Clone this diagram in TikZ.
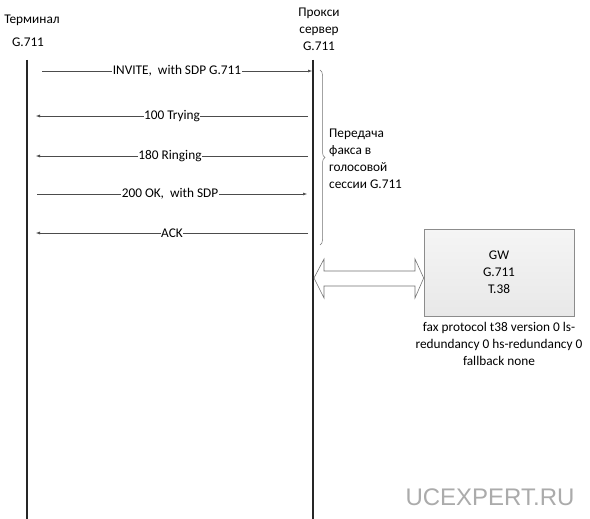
\documentclass[tikz,border=0pt]{standalone}
\usepackage{fontspec}
\setmainfont{Carlito}
\newfontfamily\wmfont{Liberation Sans}
\usetikzlibrary{arrows.meta,decorations.pathreplacing}
\begin{document}
\begin{tikzpicture}[x=1pt,y=-1pt,
  every node/.style={font=\fontsize{13.3}{17}\selectfont, inner sep=1pt},
  life/.style={line width=2pt, black!85},
  msg/.style={draw=black!70, line width=0.5pt, -{Latex[length=4pt,width=3pt]}},
  lbl/.style={fill=white, inner sep=0.5pt},
  hdr/.style={align=center}]
\useasboundingbox (0,0) rectangle (590,519);
\fill[white] (0,0) rectangle (590,519);
% headers
\node[hdr] (term) at (32,20) {Терминал};
\node[hdr] (termg) at (28,42) {G.711};
\node[hdr] (prox) at (319,29) {Прокси\\сервер\\G.711};
% lifelines
\coordinate (lt) at (27,60); \coordinate (lb) at (27,519);
\coordinate (rt) at (313,60); \coordinate (rb) at (313,519);
\draw[life] (lt) -- (lb);
\draw[life] (rt) -- (rb);
% messages
\coordinate (m1a) at (42,71);  \coordinate (m1b) at (312,71);
\coordinate (m2a) at (308,116); \coordinate (m2b) at (36,116);
\coordinate (m3a) at (308,156); \coordinate (m3b) at (36,156);
\coordinate (m4a) at (37,194); \coordinate (m4b) at (307,194);
\coordinate (m5a) at (308,233); \coordinate (m5b) at (36,233);
\draw[msg] (m1a) -- (m1b);
\node[lbl] (l1) at (177,71) {INVITE,\ \ with SDP G.711};
\draw[msg] (m2a) -- (m2b);
\node[lbl] (l2) at (172,116) {100 Trying};
\draw[msg] (m3a) -- (m3b);
\node[lbl] (l3) at (170,156) {180 Ringing};
\draw[msg] (m4a) -- (m4b);
\node[lbl] (l4) at (170,194) {200 OK,\ \ with SDP};
\draw[msg] (m5a) -- (m5b);
\node[lbl] (l5) at (172,233) {ACK};
% brace
\coordinate (bt) at (320,70); \coordinate (bb) at (320,245);
\draw[black!55, line width=0.5pt, decorate, decoration={brace, amplitude=5pt}] (bt) -- (bb);
\node[align=left, anchor=west] (brtxt) at (328,159) {Передача\\факса в\\голосовой\\сессии G.711};
% gateway box
\node[draw=black!45, line width=0.6pt, top color=black!4, bottom color=black!9, minimum width=150pt, minimum height=87pt, align=center, inner sep=0pt] (gw) at (499,272.5) {GW\\G.711\\T.38};
\node[align=center, anchor=north] (cap) at (499,321) {fax protocol t38 version 0 ls-\\redundancy 0 hs-redundancy 0\\fallback none};
% double arrow
\coordinate (dl) at (314,278);
\draw[black!55, line width=0.6pt, fill=white]
  (dl) -- (324,259) -- (324,271) -- (415,271) -- (415,259) -- (gw.west |- dl) -- (415,298) -- (415,286) -- (324,286) -- (324,298) -- cycle;
% watermark
\node[font=\wmfont\fontsize{24}{28}\selectfont, text=black!33] (wm) at (490,497) {UCEXPERT.RU};
\end{tikzpicture}
\end{document}
